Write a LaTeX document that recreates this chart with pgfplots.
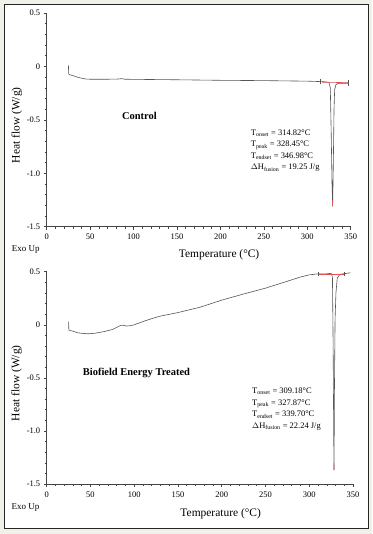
\documentclass[border=0pt]{standalone}
\usepackage{pgfplots}
\pgfplotsset{compat=1.18}
\usepackage{fontspec}
\setmainfont{Liberation Serif}
\definecolor{bgc}{HTML}{F1F1EA}
\definecolor{curve}{HTML}{555555}
\definecolor{axc}{HTML}{444444}
\definecolor{redl}{HTML}{E05050}
\pgfplotsset{
  dscstyle/.style={
    scale only axis,
    axis x line=bottom, axis y line=left,
    axis line style={-, axc, line width=0.6pt},
    xmin=0, xmax=350, ymin=-1.5, ymax=0.5,
    xtick={0,50,...,350},
    ytick={-1.5,-1.0,-0.5,0,0.5},
    yticklabels={-1.5,-1.0,-0.5,0,0.5},
    xticklabels={0,50,100,150,200,250,300,350},
    minor x tick num=4, minor y tick num=4,
    tick align=outside,
    major tick length=3bp, minor tick length=2bp,
    every tick/.style={axc, line width=0.5pt},
    tick label style={font=\fontsize{8.5}{10}\selectfont, text=black},
    xticklabel style={yshift=-1bp},
    label style={font=\fontsize{11.5}{13}\selectfont},
    clip=false,
  }
}
\begin{document}
\begin{tikzpicture}[x=1bp,y=1bp]
\useasboundingbox (0,0) rectangle (372,534);
\fill[bgc] (0,0) rectangle (372,534);
\filldraw[fill=white, draw=black!85, line width=0.8pt] (4,6) rectangle (368,530);

% ---------------- Control ----------------
\begin{axis}[dscstyle,
  at={(46.7bp,307.3bp)}, anchor=south west,
  width=304bp, height=213.7bp,
  xlabel={Temperature (\textdegree C)},
  ylabel={Heat flow (W/g)},
  xlabel style={at={(axis description cs:0.567,-0.132)}, anchor=center},
  ylabel style={at={(axis description cs:-0.098,0.475)}, anchor=center},
]
\addplot[curve, line width=0.6pt] coordinates {
(25,0.01)(25.3,-0.07)(27,-0.08)(30,-0.085)(35,-0.1)(40,-0.11)(45,-0.118)(50,-0.12)
(70,-0.12)(83,-0.118)(86,-0.114)(90,-0.12)(100,-0.121)(150,-0.125)(200,-0.13)
(250,-0.133)(300,-0.138)(315,-0.142)(322,-0.145)(325,-0.15)(326.5,-0.2)(327.5,-0.6)
(328.5,-1.1)(329.2,-1.31)(330,-0.9)(330.8,-0.4)(331.5,-0.22)(333,-0.17)(336,-0.158)(347,-0.158)
};
\addplot[redl, line width=0.6pt] coordinates {(317,-0.148)(347,-0.152)};
\addplot[redl, line width=0.6pt] coordinates {(329.0,-1.25)(329.2,-1.31)};
\addplot[curve, line width=0.6pt] coordinates {(315,-0.12)(315,-0.165)};
\addplot[curve, line width=0.6pt] coordinates {(347,-0.13)(347,-0.18)};
\node[font=\bfseries\fontsize{10.5}{12}\selectfont] at (axis cs:106.8,-0.46) {Control};
\node[anchor=north west, align=left, font=\fontsize{8.5}{11.5}\selectfont, inner sep=0pt] at (axis cs:234.9,-0.59)
{T\textsubscript{onset} = 314.82\textdegree C\\
 T\textsubscript{peak} = 328.45\textdegree C\\
 T\textsubscript{endset} = 346.98\textdegree C\\
 $\Delta$H\textsubscript{fusion} = 19.25 J/g};
\node[anchor=west, font=\fontsize{9}{10}\selectfont, inner sep=0pt] at (axis description cs:-0.115,-0.106) {Exo Up};
\end{axis}

% ---------------- Treated ----------------
\begin{axis}[dscstyle,
  at={(46.7bp,50bp)}, anchor=south west,
  width=306.3bp, height=212.3bp,
  xlabel={Temperature (\textdegree C)},
  ylabel={Heat flow (W/g)},
  xlabel style={at={(axis description cs:0.568,-0.138)}, anchor=center},
  ylabel style={at={(axis description cs:-0.098,0.475)}, anchor=center},
]
\addplot[curve, line width=0.6pt] coordinates {
(25,0.03)(25.3,-0.05)(27,-0.055)(30,-0.06)(35,-0.075)(40,-0.08)(47,-0.085)(55,-0.08)
(65,-0.065)(75,-0.045)(80,-0.025)(84,-0.008)(87,-0.003)(91,-0.012)(96,-0.008)(100,0)
(110,0.03)(120,0.058)(130,0.082)(150,0.115)(175,0.165)(200,0.232)(225,0.29)(250,0.345)
(275,0.41)(290,0.45)(300,0.47)(310,0.48)(320,0.48)(325,0.485)(326.5,0.45)(327.3,-0.2)
(328,-1.1)(328.3,-1.37)(328.8,-0.6)(329.5,0.05)(330.5,0.3)(332,0.44)(335,0.475)(347,0.49)
};
\addplot[redl, line width=0.6pt] coordinates {(310,0.48)(340,0.48)};
\addplot[redl, line width=0.6pt] coordinates {(328.2,-1.3)(328.3,-1.37)};
\addplot[curve, line width=0.6pt] coordinates {(310,0.5)(310,0.46)};
\addplot[curve, line width=0.6pt] coordinates {(340,0.5)(340,0.46)};
\node[font=\bfseries\fontsize{10.5}{12}\selectfont] at (axis cs:102.6,-0.45) {Biofield Energy Treated};
\node[anchor=north west, align=left, font=\fontsize{8.5}{11.5}\selectfont, inner sep=0pt] at (axis cs:234.6,-0.596)
{T\textsubscript{onset} = 309.18\textdegree C\\
 T\textsubscript{peak} = 327.87\textdegree C\\
 T\textsubscript{endset} = 339.70\textdegree C\\
 $\Delta$H\textsubscript{fusion} = 22.24 J/g};
\node[anchor=west, font=\fontsize{9}{10}\selectfont, inner sep=0pt] at (axis description cs:-0.115,-0.11) {Exo Up};
\end{axis}
\end{tikzpicture}
\end{document}
